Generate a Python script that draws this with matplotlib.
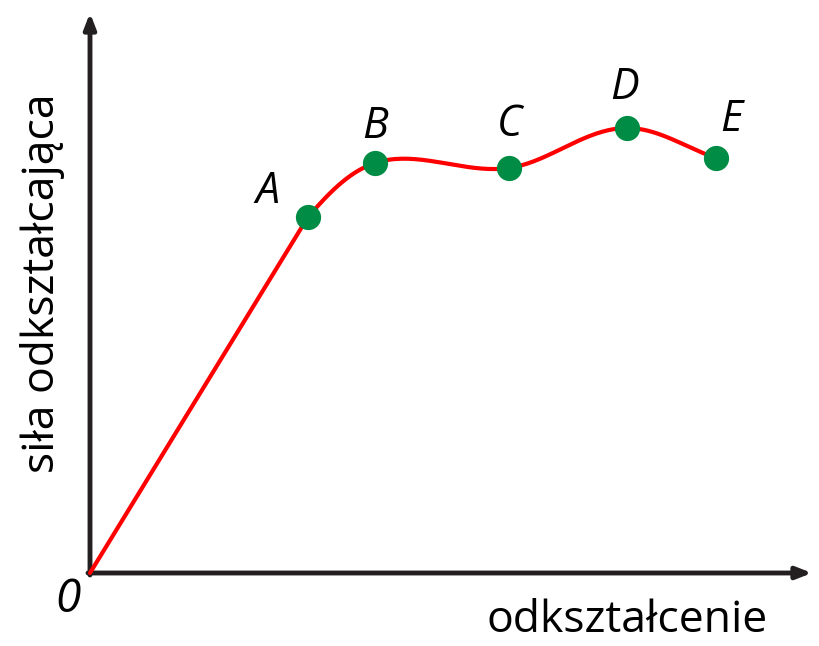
import numpy as np
import matplotlib.pyplot as plt

# punkty charakterystyczne (odkształcenie, siła)
names = ['A', 'B', 'C', 'D', 'E']
strain = [218, 285, 419, 537, 626]
force = [356, 410, 405, 445, 415]

# przebieg krzywej: początek układu + punkty A..E
curve_x = [0] + strain
curve_y = [0] + force

# położenie etykiet liter względem punktów
label_dx = [-41, 0, 0, -2, 15]
label_dy = [25, 36, 43, 40, 38]


def smooth(xs, ys, n=40):
    # odcinek 0-A prosty, dalej gładka krzywa Hermite'a przez punkty
    p = np.column_stack([xs, ys]).astype(float)
    d = np.diff(p, axis=0)
    u = d / np.linalg.norm(d, axis=1)[:, None]
    tang = np.vstack([u[0], u[:-1] + u[1:], u[-1]])
    tang /= np.linalg.norm(tang, axis=1)[:, None]
    t = np.linspace(0, 1, n)[:, None]
    h00 = 2 * t ** 3 - 3 * t ** 2 + 1
    h10 = t ** 3 - 2 * t ** 2 + t
    h01 = -2 * t ** 3 + 3 * t ** 2
    h11 = t ** 3 - t ** 2
    pts = [p[:1]]
    for i in range(1, len(p) - 1):
        L = np.linalg.norm(d[i])
        seg = (h00 * p[i] + h10 * L * tang[i]
               + h01 * p[i + 1] + h11 * L * tang[i + 1])
        pts.append(seg)
    pts = np.vstack(pts)
    return pts[:, 0], pts[:, 1]


plt.rcParams['font.family'] = ['Open Sans', 'DejaVu Sans']

fig = plt.figure(figsize=(8.19, 6.46), dpi=100)
ax = fig.add_axes([0, 0, 1, 1])
ax.set_xlim(-90, 729)
ax.set_ylim(-73, 573)
ax.axis('off')

axis_color = '#231f20'
# osie ze strzałkami
ax.annotate('', xy=(722, 0), xytext=(-2, 0),
            arrowprops=dict(arrowstyle='-|>,head_length=0.9,head_width=0.35',
                            color=axis_color, lw=3.5, shrinkA=0, shrinkB=0))
ax.annotate('', xy=(0, 560), xytext=(0, -2),
            arrowprops=dict(arrowstyle='-|>,head_length=0.9,head_width=0.35',
                            color=axis_color, lw=3.5, shrinkA=0, shrinkB=0))

# krzywa
cx, cy = smooth(curve_x, curve_y)
ax.plot(cx, cy, color='#ff0000', lw=3, solid_capstyle='round', zorder=3)

# punkty
ax.scatter(strain, force, s=330, color='#008c45', zorder=4, linewidths=0)
for n, x, y, dx, dy in zip(names, strain, force, label_dx, label_dy):
    ax.text(x + dx, y + dy, n, fontsize=31, style='italic',
            ha='center', va='center', color='black')

ax.text(-22, -27, '0', fontsize=33, style='italic', ha='center', va='center')
ax.text(537, -59, 'odkształcenie', fontsize=32, ha='center', va='baseline')
ax.text(-47, 290, 'siła odkształcająca', fontsize=32, rotation=90,
        ha='center', va='center')

fig.savefig('out.png', dpi=100)
